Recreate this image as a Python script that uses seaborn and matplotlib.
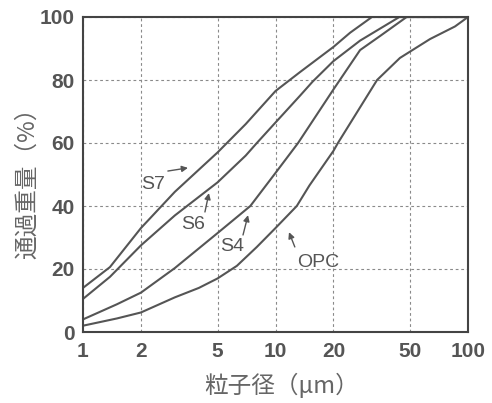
import numpy as np
import pandas as pd
import matplotlib
matplotlib.use("Agg")
import matplotlib.pyplot as plt
import seaborn as sns
from matplotlib.ticker import NullLocator

# ---- data ----
s7_x = [1, 1.38, 2, 3, 5, 7, 10, 13.4, 20, 24.4, 31.7, 100]
s7_y = [14, 20.6, 33, 44.5, 57, 66, 76.5, 82.5, 90.5, 95, 100, 100]

s6_x = [1, 1.38, 2, 3, 5, 7, 8, 10, 13.4, 15.6, 20, 27.5, 44, 100]
s6_y = [10.5, 17.5, 27.5, 37, 47.5, 56, 60, 66.5, 75, 79.5, 86, 92.5, 100, 100]

s4_x = [1, 1.5, 2, 3, 5, 7.4, 10, 13.1, 20, 27.5, 35, 48, 100]
s4_y = [4, 8.8, 12.5, 20.3, 31.4, 40, 50.5, 60, 77, 89.5, 94, 100, 100]

opc_x = [1, 1.5, 2, 3, 4, 5, 6.3, 8, 10, 12.9, 15, 20, 21.1, 33.7, 44.3, 63.5, 85.6, 100]
opc_y = [2, 4.3, 6.2, 11, 14, 17, 21, 27, 33, 40, 46.5, 57.5, 60, 80, 87, 93, 97, 100]

series_names = ["S7", "S6", "S4", "OPC"]
x_ticks = [1, 2, 5, 10, 20, 50, 100]
x_tick_labels = ["1", "2", "5", "10", "20", "50", "100"]
y_ticks = [0, 20, 40, 60, 80, 100]
y_tick_labels = ["0", "20", "40", "60", "80", "100"]
x_label = "粒子径（μm）"
y_label = "通過重量（%）"

frames = []
for name, xs, ys in zip(series_names, [s7_x, s6_x, s4_x, opc_x], [s7_y, s6_y, s4_y, opc_y]):
    frames.append(pd.DataFrame({"size": xs, "pass": ys, "series": name}))
df = pd.concat(frames, ignore_index=True)

# ---- style ----
sns.set_style("white")
plt.rcParams["font.family"] = ["Liberation Sans", "Noto Sans CJK JP", "DejaVu Sans"]

ink = "#555555"
fig = plt.figure(figsize=(4.92, 4.03), dpi=100)
ax = fig.add_axes([83 / 492, 1 - 332 / 403, (468 - 83) / 492, (332 - 17) / 403])

sns.lineplot(data=df, x="size", y="pass", hue="series", units="series",
             estimator=None, sort=False, palette={n: ink for n in series_names},
             linewidth=1.5, legend=False, ax=ax)

ax.set_xscale("log")
ax.set_xlim(1, 100)
ax.set_ylim(0, 100)
ax.xaxis.set_minor_locator(NullLocator())
ax.set_xticks(x_ticks)
ax.set_xticklabels(x_tick_labels)
ax.set_yticks(y_ticks)
ax.set_yticklabels(y_tick_labels)

ax.tick_params(axis="both", length=0, labelcolor=ink, labelsize=15)
ax.tick_params(axis="x", pad=7)
ax.tick_params(axis="y", pad=6)
for lab in ax.get_xticklabels() + ax.get_yticklabels():
    lab.set_fontweight("bold")

ax.grid(True, which="major", color="#8a8a8a", linestyle=(0, (2.5, 2.5)), linewidth=0.8)

for sp in ax.spines.values():
    sp.set_visible(True)
    sp.set_color("#444444")
    sp.set_linewidth(1.5)

ax.set_xlabel(x_label, fontsize=17, color="#666666",
              family=["Noto Sans CJK JP", "DejaVu Sans"], va="center")
ax.xaxis.set_label_coords(0.517, -0.171)
ax.set_ylabel(y_label, fontsize=17, color="#666666",
              family=["Noto Sans CJK JP", "DejaVu Sans"], va="center")
ax.yaxis.set_label_coords(-0.145, 0.49)

# ---- series labels with arrows ----
labels = [
    ("S7", (2.31, 46.7), (2.76, 51.1), (3.51, 52.1)),
    ("S6", (3.73, 34.0), (4.30, 38.1), (4.51, 44.1)),
    ("S4", (5.94, 27.0), (6.78, 30.8), (7.20, 37.1)),
    ("OPC", (16.6, 22.2), (12.6, 27.0), (11.75, 31.7)),
]
for text, tpos, tail, head in labels:
    ax.text(tpos[0], tpos[1], text, fontsize=14, color=ink, ha="center", va="center")
    ax.annotate("", xy=head, xytext=tail,
                arrowprops=dict(arrowstyle="-|>", color=ink, lw=1.0, mutation_scale=9,
                                shrinkA=0, shrinkB=0))

fig.savefig("out.png", dpi=100)
